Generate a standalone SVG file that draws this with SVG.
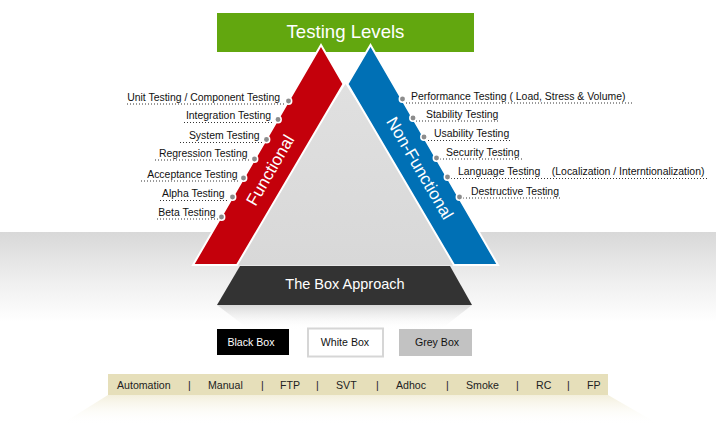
<svg xmlns="http://www.w3.org/2000/svg" width="716" height="445" viewBox="0 0 716 445">
  <defs>
    <linearGradient id="bgBand" x1="0" y1="0" x2="0" y2="1">
      <stop offset="0" stop-color="#d8d8d8"/>
      <stop offset="0.55" stop-color="#efefef"/>
      <stop offset="1" stop-color="#ffffff"/>
    </linearGradient>
    <linearGradient id="triFill" x1="0" y1="0" x2="0" y2="1">
      <stop offset="0" stop-color="#e0e0e0"/>
      <stop offset="1" stop-color="#d8d8d8"/>
    </linearGradient>
    <linearGradient id="reflect" x1="0" y1="0" x2="0" y2="1">
      <stop offset="0" stop-color="#d0d0d0" stop-opacity="0.8"/>
      <stop offset="1" stop-color="#ffffff" stop-opacity="0"/>
    </linearGradient>
    <linearGradient id="glow" x1="0" y1="0" x2="0" y2="1">
      <stop offset="0" stop-color="#f3efdc"/>
      <stop offset="1" stop-color="#ffffff" stop-opacity="0"/>
    </linearGradient>
  </defs>
  <style>
    .lbl { font-family: "Liberation Sans", Arial, sans-serif; font-size: 10.45px; fill: #111; }
    .lblL { text-anchor: end; }
    .ul { stroke: #333; stroke-width: 1; stroke-dasharray: 1 2; fill: none; }
    .dot { fill: #8c8c8c; stroke: #fff; stroke-width: 1.5; }
    .band { stroke: #fff; stroke-width: 2; stroke-linejoin: miter; }
    .box { font-family: "Liberation Sans", Arial, sans-serif; font-size: 10.6px; text-anchor: middle; }
    .bar { font-family: "Liberation Sans", Arial, sans-serif; font-size: 10.6px; fill: #222; }
  </style>

  <!-- background -->
  <rect x="0" y="0" width="716" height="445" fill="#ffffff"/>
  <rect x="0" y="232" width="716" height="90" fill="url(#bgBand)"/>
  <polygon points="60,425 108,395 608,395 660,425" fill="url(#glow)"/>
  <polygon points="217,305 472,305 440,330 250,330" fill="url(#reflect)"/>

  <!-- title -->
  <g id="title">
    <rect x="217" y="13" width="257" height="39" fill="#62a70f"/>
    <text x="345.5" y="37.5" text-anchor="middle" font-family="'Liberation Sans', Arial, sans-serif" font-size="18.6" fill="#ffffff">Testing Levels</text>
  </g>

  <!-- central triangle -->
  <g id="triangle">
    <polygon points="345.5,84 462,265 229,265" fill="url(#triFill)"/>
  </g>

  <!-- functional band -->
  <g id="functional">
    <polygon class="band" points="321,45 343.5,84 237,265 193,265 " fill="#c4000b"/>
    <text transform="translate(270,170) rotate(-59.8)" x="0" y="6" text-anchor="middle" font-family="'Liberation Sans', Arial, sans-serif" font-size="17" fill="#ffffff">Functional</text>
  </g>

  <!-- non-functional band -->
  <g id="non-functional">
    <polygon class="band" points="370.5,45 498,265 454,265 347.5,84" fill="#0070b5"/>
    <text transform="translate(420,168) rotate(59.8)" x="0" y="6" text-anchor="middle" font-family="'Liberation Sans', Arial, sans-serif" font-size="17" fill="#ffffff">Non-Functional</text>
  </g>

  <!-- box approach -->
  <g id="box-approach">
    <polygon points="240,266 450,266 472,305 217,305" fill="#333333"/>
    <text x="345" y="289" text-anchor="middle" font-family="'Liberation Sans', Arial, sans-serif" font-size="14.5" fill="#ffffff">The Box Approach</text>
  </g>

  <g id="black-box">
    <rect x="217" y="329" width="72" height="26" fill="#000000"/>
    <text class="box" x="251" y="346" fill="#ffffff">Black Box</text>
  </g>
  <g id="white-box">
    <rect x="308" y="328.5" width="75" height="28" fill="#ffffff" stroke="#d6d6d6" stroke-width="2"/>
    <text class="box" x="345" y="346" fill="#111111">White Box</text>
  </g>
  <g id="grey-box">
    <rect x="399" y="329" width="73" height="27" fill="#c2c2c2"/>
    <text class="box" x="437" y="346" fill="#111111">Grey Box</text>
  </g>

  <!-- bottom bar -->
  <g id="types-bar">
    <rect x="108" y="374" width="500" height="21" fill="#e6dfba"/>
    <text class="bar" x="117" y="389">Automation</text>
    <text class="bar" x="188" y="389">|</text>
    <text class="bar" x="208" y="389">Manual</text>
    <text class="bar" x="261" y="389">|</text>
    <text class="bar" x="280" y="389">FTP</text>
    <text class="bar" x="316" y="389">|</text>
    <text class="bar" x="336" y="389">SVT</text>
    <text class="bar" x="376" y="389">|</text>
    <text class="bar" x="396" y="389">Adhoc</text>
    <text class="bar" x="446" y="389">|</text>
    <text class="bar" x="466" y="389">Smoke</text>
    <text class="bar" x="516" y="389">|</text>
    <text class="bar" x="536" y="389">RC</text>
    <text class="bar" x="567" y="389">|</text>
    <text class="bar" x="587" y="389">FP</text>
  </g>

  <!-- connectors (dotted leaders) -->
  <g id="connectors">
    <line class="ul" x1="127" y1="104" x2="285" y2="104"/>
    <line class="ul" x1="184" y1="122.5" x2="274" y2="122.5"/>
    <line class="ul" x1="180" y1="142.5" x2="263" y2="142.5"/>
    <line class="ul" x1="155" y1="160" x2="251" y2="160"/>
    <line class="ul" x1="141" y1="181" x2="239" y2="181"/>
    <line class="ul" x1="160" y1="200.5" x2="228" y2="200.5"/>
    <line class="ul" x1="157" y1="219" x2="218" y2="219"/>

    <line class="ul" x1="406" y1="103" x2="632" y2="103"/>
    <line class="ul" x1="416" y1="121" x2="499" y2="121"/>
    <line class="ul" x1="428" y1="140.5" x2="511" y2="140.5"/>
    <line class="ul" x1="440" y1="159" x2="522" y2="159"/>
    <line class="ul" x1="451" y1="178.5" x2="708" y2="178.5"/>
    <line class="ul" x1="463" y1="198" x2="562" y2="198"/>
  </g>

  <!-- functional labels -->
  <g id="lbl-unit"><text class="lbl lblL" x="280" y="100.5">Unit Testing / Component Testing</text><circle class="dot" cx="288.5" cy="101" r="3.2"/></g>
  <g id="lbl-integration"><text class="lbl lblL" x="271" y="119">Integration Testing</text><circle class="dot" cx="278" cy="119.5" r="3.2"/></g>
  <g id="lbl-system"><text class="lbl lblL" x="259.5" y="139">System Testing</text><circle class="dot" cx="266.5" cy="139.5" r="3.2"/></g>
  <g id="lbl-regression"><text class="lbl lblL" x="247.5" y="156.5">Regression Testing</text><circle class="dot" cx="254.5" cy="159" r="3.2"/></g>
  <g id="lbl-acceptance"><text class="lbl lblL" x="237.5" y="177.5">Acceptance Testing</text><circle class="dot" cx="243.5" cy="178" r="3.2"/></g>
  <g id="lbl-alpha"><text class="lbl lblL" x="224.5" y="197">Alpha Testing</text><circle class="dot" cx="232.5" cy="197" r="3.2"/></g>
  <g id="lbl-beta"><text class="lbl lblL" x="215.5" y="215.5">Beta Testing</text><circle class="dot" cx="221.5" cy="217" r="3.2"/></g>

  <!-- non-functional labels -->
  <g id="lbl-performance"><circle class="dot" cx="402.5" cy="99" r="3.2"/><text class="lbl" x="411" y="99.5">Performance Testing ( Load, Stress &amp; Volume)</text></g>
  <g id="lbl-stability"><circle class="dot" cx="413" cy="118" r="3.2"/><text class="lbl" x="426" y="117.5">Stability Testing</text></g>
  <g id="lbl-usability"><circle class="dot" cx="424" cy="137" r="3.2"/><text class="lbl" x="434" y="137">Usability Testing</text></g>
  <g id="lbl-security"><circle class="dot" cx="436.5" cy="158" r="3.2"/><text class="lbl" x="446" y="155.5">Security Testing</text></g>
  <g id="lbl-language"><circle class="dot" cx="447.5" cy="177" r="3.2"/><text class="lbl" x="458" y="175" xml:space="preserve">Language Testing    (Localization / Interntionalization)</text></g>
  <g id="lbl-destructive"><circle class="dot" cx="459.5" cy="197" r="3.2"/><text class="lbl" x="471" y="194.5">Destructive Testing</text></g>
</svg>
